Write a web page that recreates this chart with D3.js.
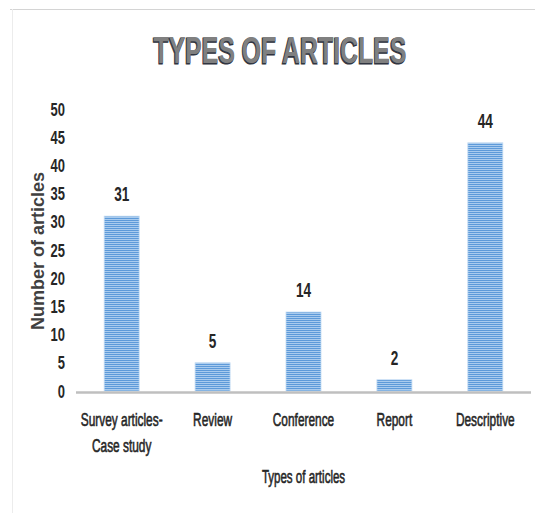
<!DOCTYPE html>
<html>
<head>
<meta charset="utf-8">
<script src="https://cdn.jsdelivr.net/npm/d3@7"></script>
<style>
  body { margin: 0; background: #fff; }
  svg text { font-family: "Liberation Sans", Arial, sans-serif; }
</style>
</head>
<body>
<svg id="chart" width="535" height="515"></svg>
<script>
// data
const categories = ["Survey articles-\nCase study", "Review", "Conference", "Report", "Descriptive"];
const counts = [31, 5, 14, 2, 44];
const yTicks = [0, 5, 10, 15, 20, 25, 30, 35, 40, 45, 50];

const svg = d3.select("#chart");
const W = 535, H = 515;
const margin = {top: 109, right: 4, bottom: 124, left: 76};

// frame lines (top + left only show up)
svg.append("line").attr("x1", 10).attr("x2", W).attr("y1", 9.5).attr("y2", 9.5)
  .attr("stroke", "#d4d4d4").attr("stroke-width", 1);
svg.append("line").attr("x1", 12.5).attr("x2", 12.5).attr("y1", 9).attr("y2", 513)
  .attr("stroke", "#ececec").attr("stroke-width", 1);

// striped blue fill
const defs = svg.append("defs");
const pat = defs.append("pattern").attr("id", "stripes")
  .attr("patternUnits", "userSpaceOnUse").attr("width", 4).attr("height", 2);
pat.append("rect").attr("width", 4).attr("height", 2).attr("fill", "#a9cbee");
pat.append("rect").attr("width", 4).attr("height", 1).attr("fill", "#5d9ad9");

const x = d3.scaleBand().domain(categories)
  .range([margin.left, W - margin.right]).paddingInner(0.615).paddingOuter(0.31);
const y = d3.scaleLinear().domain([0, 50]).range([H - margin.bottom, margin.top]);

const cx = d => x(d) + x.bandwidth() / 2;

// title: gray with a dark offset edge
const title = svg.append("g").attr("transform", "translate(280,63) scale(0.69,1.02)");
title.append("text").attr("x", -1).attr("y", 1)
  .attr("text-anchor", "middle").attr("font-size", 36).attr("font-weight", "bold")
  .attr("fill", "#2f3440").attr("stroke", "#2f3440").attr("stroke-width", 1.2)
  .text("TYPES OF ARTICLES");
title.append("text")
  .attr("text-anchor", "middle").attr("font-size", 36).attr("font-weight", "bold")
  .attr("fill", "#808080")
  .text("TYPES OF ARTICLES");

// y ticks (no axis line)
svg.append("g").selectAll("text").data(yTicks).join("text")
  .attr("transform", d => `translate(65,${y(d) + 6.5}) scale(0.72,1)`)
  .attr("text-anchor", "end")
  .attr("font-size", 18).attr("font-weight", "bold").attr("fill", "#262626")
  .text(d => d);

// bars
svg.append("g").selectAll("rect").data(counts).join("rect")
  .attr("x", (d, i) => x(categories[i]))
  .attr("y", d => y(d))
  .attr("width", x.bandwidth())
  .attr("height", d => y(0) - y(d))
  .attr("fill", "url(#stripes)")
  .attr("stroke", "#c4dcf3").attr("stroke-width", 0.8);

// value labels
svg.append("g").selectAll("text").data(counts).join("text")
  .attr("transform", (d, i) => `translate(${cx(categories[i])},${y(d) - 15}) scale(0.68,1)`)
  .attr("text-anchor", "middle")
  .attr("font-size", 20).attr("font-weight", "bold").attr("fill", "#262626")
  .text(d => d);

// baseline
svg.append("line")
  .attr("x1", margin.left).attr("x2", W - margin.right)
  .attr("y1", y(0) + 1.5).attr("y2", y(0) + 1.5)
  .attr("stroke", "#bfbfbf").attr("stroke-width", 2.5);

// category labels
const cat = svg.append("g").selectAll("text").data(categories).join("text")
  .attr("text-anchor", "middle")
  .attr("font-size", 18).attr("fill", "#262626")
  .attr("stroke", "#262626").attr("stroke-width", 0.6)
  .attr("transform", d => `translate(${cx(d)},426) scale(0.66,1)`);
cat.each(function(d) {
  d.split("\n").forEach((ln, k) => {
    d3.select(this).append("tspan").attr("x", 0).attr("dy", k ? 26 : 0).text(ln);
  });
});

// axis titles
svg.append("text")
  .attr("transform", `translate(${(margin.left + W - margin.right) / 2},483) scale(0.64,1)`)
  .attr("text-anchor", "middle")
  .attr("font-size", 18).attr("fill", "#262626")
  .attr("stroke", "#262626").attr("stroke-width", 0.6)
  .text("Types of articles");

svg.append("text")
  .attr("transform", "translate(44,251) rotate(-90)")
  .attr("text-anchor", "middle")
  .attr("font-size", 18).attr("font-weight", "bold").attr("fill", "#404040")
  .text("Number of articles");
</script>
</body>
</html>
